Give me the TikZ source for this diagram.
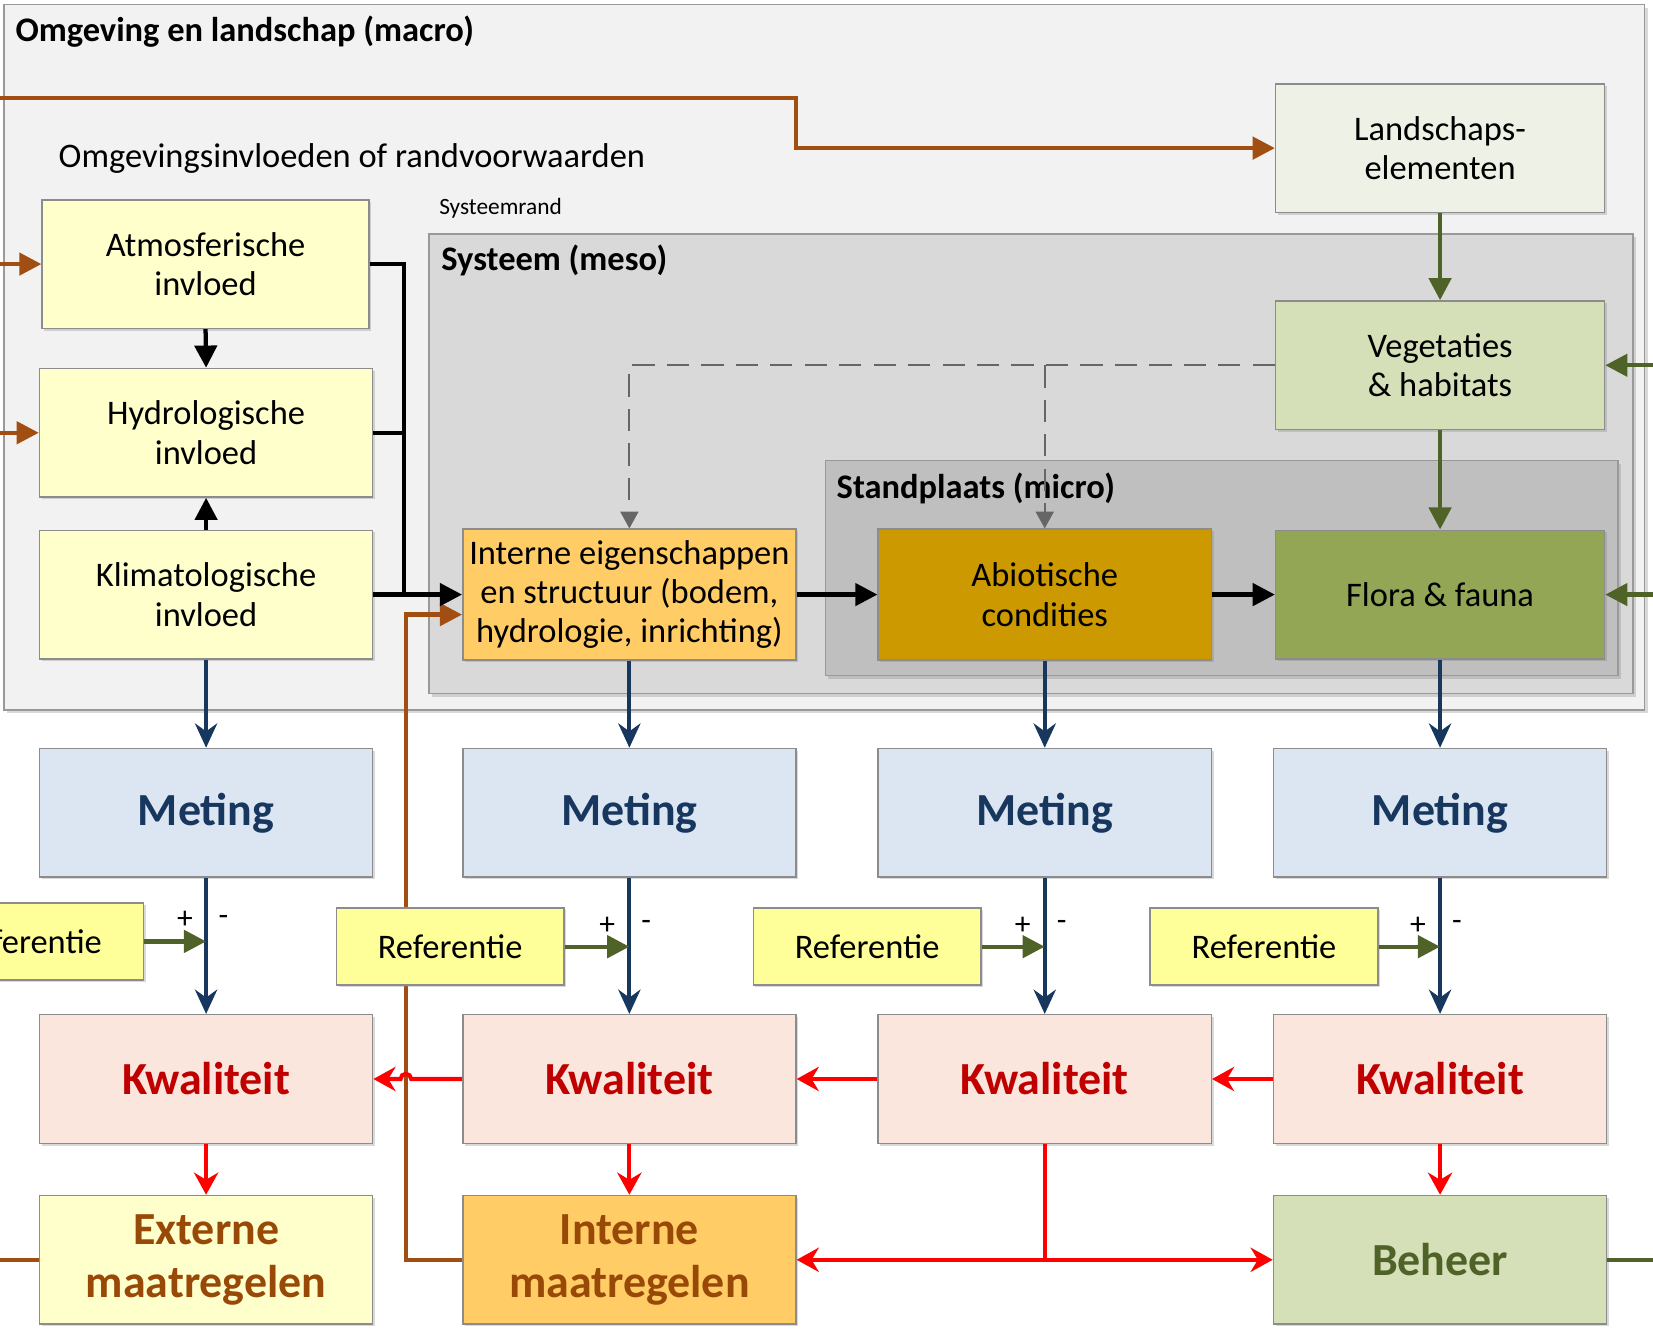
\documentclass[tikz,border=0pt]{standalone}
\usepackage{fontspec}
\setmainfont{Carlito}
\usetikzlibrary{arrows.meta,shadows}

\definecolor{macrogray}{HTML}{F2F2F2}
\definecolor{mesogray}{HTML}{D9D9D9}
\definecolor{microgray}{HTML}{BFBFBF}
\definecolor{greenpale}{HTML}{EEF2E6}
\definecolor{greenlight}{HTML}{D5DFB8}
\definecolor{olivebox}{HTML}{92A656}
\definecolor{yellowpale}{HTML}{FFFFCC}
\definecolor{refyellow}{HTML}{FFFF99}
\definecolor{orangelight}{HTML}{FFCC66}
\definecolor{ochre}{HTML}{CC9900}
\definecolor{bluepale}{HTML}{DCE6F2}
\definecolor{rosepale}{HTML}{FAE6DC}
\definecolor{arrowbrown}{HTML}{A04E12}
\definecolor{arrowgreen}{HTML}{4F6228}
\definecolor{arrowblue}{HTML}{17375E}
\definecolor{textred}{HTML}{C00000}
\definecolor{textbrown}{HTML}{984807}

\begin{document}
\begin{tikzpicture}[
  every node/.style={
    inner sep=1pt,
    font=\fontsize{9.3}{10.6}\selectfont
  },
  box/.style={
    rectangle,
    draw=black!45,
    align=center,
    minimum width=3.16cm,
    minimum height=1.22cm,
    drop shadow={shadow xshift=0.6pt, shadow yshift=-0.6pt, opacity=0.3}
  },
  bigtext/.style={font=\fontsize{12.4}{14.4}\selectfont\bfseries},
  refbox/.style={box, fill=refyellow, minimum width=2.16cm, minimum height=0.73cm},
  area/.style={draw=black!40, drop shadow={shadow xshift=0.8pt, shadow yshift=-0.8pt, opacity=0.3}},
  areatitle/.style={anchor=west, inner sep=0pt, font=\fontsize{9.3}{10.6}\selectfont\bfseries},
  pm/.style={inner sep=0pt, font=\fontsize{8.5}{9}\selectfont},
  brownline/.style={draw=arrowbrown, line width=1.15pt},
  brownarrow/.style={brownline, -{Triangle[length=2.1mm, width=2.1mm]}},
  blackarrow/.style={line width=1.15pt, -{Triangle[length=2.1mm, width=2.1mm]}},
  greenline/.style={draw=arrowgreen, line width=1.15pt},
  greenarrow/.style={greenline, -{Triangle[length=2.1mm, width=2.1mm]}},
  bluearrow/.style={draw=arrowblue, line width=1.1pt, -{Stealth[length=2.3mm, width=2.1mm]}},
  redarrow/.style={draw=red, line width=1.1pt, -{Stealth[length=2.1mm, width=2.3mm]}},
  dasharrow/.style={draw=black!60, line width=0.6pt, dash pattern=on 6pt off 3.3pt,
    -{Triangle[length=1.6mm, width=1.7mm]}}
]
  \useasboundingbox (0,0) rectangle (15.68,-12.615);
  \clip (0,0) rectangle (15.68,-12.615);

  % nested areas
  \draw[area, fill=macrogray] (0.04,-0.045) rectangle (15.60,-6.735);
  \draw[area, fill=mesogray] (4.07,-2.22) rectangle (15.49,-6.58);
  \draw[area, fill=microgray] (7.83,-4.37) rectangle (15.35,-6.41);

  \node[areatitle] (macrotitle) at (0.14,-0.30) {Omgeving en landschap (macro)};
  \node[anchor=west, inner sep=0pt] (randtext) at (0.55,-1.50) {Omgevingsinvloeden of randvoorwaarden};
  \node[anchor=west, inner sep=0pt, font=\fontsize{6.3}{7}\selectfont] (randlabel) at (4.16,-1.98) {Systeemrand};
  \node[areatitle] (mesotitle) at (4.18,-2.47) {Systeem (meso)};
  \node[areatitle] (microtitle) at (7.93,-4.63) {Standplaats (micro)};

  % boxes
  \node[box, fill=greenpale, minimum width=3.12cm] (land) at (13.66,-1.405) {Landschaps-\\elementen};
  \node[box, fill=yellowpale, minimum width=3.10cm] (atmo) at (1.95,-2.505) {Atmosferische\\invloed};
  \node[box, fill=yellowpale] (hydro) at (1.955,-4.105) {Hydrologische\\invloed};
  \node[box, fill=yellowpale] (klima) at (1.955,-5.64) {Klimatologische\\invloed};
  \node[box, fill=greenlight, minimum width=3.12cm] (veg) at (13.66,-3.465) {Vegetaties\\\& habitats};
  \node[box, fill=orangelight, minimum height=1.24cm] (intern) at (5.97,-5.64)
    {Interne eigenschappen\\en structuur (bodem,\\hydrologie, inrichting)};
  \node[box, fill=ochre, minimum height=1.24cm] (abio) at (9.91,-5.64) {Abiotische\\condities};
  \node[box, fill=olivebox, minimum width=3.12cm] (flora) at (13.66,-5.64) {Flora \& fauna};

  \node[box, fill=bluepale, bigtext, text=arrowblue] (met1) at (1.955,-7.71) {Meting};
  \node[box, fill=bluepale, bigtext, text=arrowblue] (met2) at (5.97,-7.71) {Meting};
  \node[box, fill=bluepale, bigtext, text=arrowblue] (met3) at (9.91,-7.71) {Meting};
  \node[box, fill=bluepale, bigtext, text=arrowblue] (met4) at (13.66,-7.71) {Meting};

  \node[box, fill=rosepale, bigtext, text=textred] (kw1) at (1.955,-10.235) {Kwaliteit};
  \node[box, fill=rosepale, bigtext, text=textred] (kw2) at (5.97,-10.235) {Kwaliteit};
  \node[box, fill=rosepale, bigtext, text=textred] (kw3) at (9.91,-10.235) {Kwaliteit};
  \node[box, fill=rosepale, bigtext, text=textred] (kw4) at (13.66,-10.235) {Kwaliteit};

  \node[box, fill=yellowpale, bigtext, text=textbrown] (ext) at (1.955,-11.95) {Externe\\maatregelen};
  \node[box, fill=orangelight, bigtext, text=textbrown] (interm) at (5.97,-11.95) {Interne\\maatregelen};
  \node[box, fill=greenlight, bigtext, text=arrowgreen] (beheer) at (13.66,-11.95) {Beheer};

  % feedback of internal measures, behind the reference box
  \draw[brownarrow] (interm.west) -| (3.85,-5.83) -- ([yshift=-0.19cm]intern.west);

  \node[refbox] (ref1) at (0.28,-8.93) {Referentie};
  \node[refbox] (ref2) at (4.27,-8.98) {Referentie};
  \node[refbox] (ref3) at (8.225,-8.98) {Referentie};
  \node[refbox] (ref4) at (11.99,-8.98) {Referentie};

  % outside influences
  \coordinate (inland) at (0,-0.93);
  \coordinate (inatmo) at (0,-2.505);
  \coordinate (inhydro) at (0,-4.105);
  \coordinate (inveg) at (15.68,-3.465);
  \coordinate (inflora) at (15.68,-5.64);
  \coordinate (extout) at (0,-11.95);
  \coordinate (beheerout) at (15.68,-11.95);
  \coordinate (bus) at (3.83,-5.64);

  \draw[brownarrow] (inland) -| (7.55,-1.405) -- (land.west);
  \draw[brownarrow] (inatmo) -- (atmo.west);
  \draw[brownarrow] (inhydro) -- (hydro.west);
  \draw[brownline] (ext.west) -- (extout);

  \draw[blackarrow] (atmo.south) -- (hydro.north);
  \draw[blackarrow] (klima.north) -- (hydro.south);
  \draw[line width=1.15pt] (atmo.east) -| (bus);
  \draw[line width=1.15pt] (hydro.east) -| (bus);
  \draw[blackarrow] (klima.east) -- (intern.west);
  \draw[blackarrow] (intern.east) -- (abio.west);
  \draw[blackarrow] (abio.east) -- (flora.west);

  \draw[dasharrow] (veg.west) -| (intern.north);
  \draw[dasharrow] (abio.north |- veg.west) -- (abio.north);

  \draw[greenarrow] (land.south) -- (veg.north);
  \draw[greenarrow] (veg.south) -- (flora.north);
  \draw[greenarrow] (inveg) -- (veg.east);
  \draw[greenarrow] (inflora) -- (flora.east);
  \draw[greenline] (beheer.east) -- (beheerout);

  \draw[bluearrow] (klima.south) -- (met1.north);
  \draw[bluearrow] (intern.south) -- (met2.north);
  \draw[bluearrow] (abio.south) -- (met3.north);
  \draw[bluearrow] (flora.south) -- (met4.north);
  \draw[bluearrow] (met1.south) -- (kw1.north);
  \draw[bluearrow] (met2.south) -- (kw2.north);
  \draw[bluearrow] (met3.south) -- (kw3.north);
  \draw[bluearrow] (met4.south) -- (kw4.north);

  \draw[greenarrow] (ref1.east) -- (ref1.east -| met1.south);
  \draw[greenarrow] (ref2.east) -- (ref2.east -| met2.south);
  \draw[greenarrow] (ref3.east) -- (ref3.east -| met3.south);
  \draw[greenarrow] (ref4.east) -- (ref4.east -| met4.south);

  \node[pm] (plus1) at (1.755,-8.73) {+};
  \node[pm] (min1) at (2.12,-8.73) {-};
  \node[pm] (plus2) at (5.76,-8.78) {+};
  \node[pm] (min2) at (6.13,-8.78) {-};
  \node[pm] (plus3) at (9.70,-8.78) {+};
  \node[pm] (min3) at (10.07,-8.78) {-};
  \node[pm] (plus4) at (13.45,-8.78) {+};
  \node[pm] (min4) at (13.82,-8.78) {-};

  \draw[redarrow] (kw2.west) -- (3.90,-10.235) arc[start angle=0, end angle=180, radius=0.05] -- (kw1.east);
  \draw[redarrow] (kw3.west) -- (kw2.east);
  \draw[redarrow] (kw4.west) -- (kw3.east);
  \draw[redarrow] (kw1.south) -- (ext.north);
  \draw[redarrow] (kw2.south) -- (interm.north);
  \draw[redarrow] (kw4.south) -- (beheer.north);
  \draw[redarrow] (kw3.south) |- (interm.east);
  \draw[redarrow] (kw3.south) |- (beheer.west);
\end{tikzpicture}
\end{document}
